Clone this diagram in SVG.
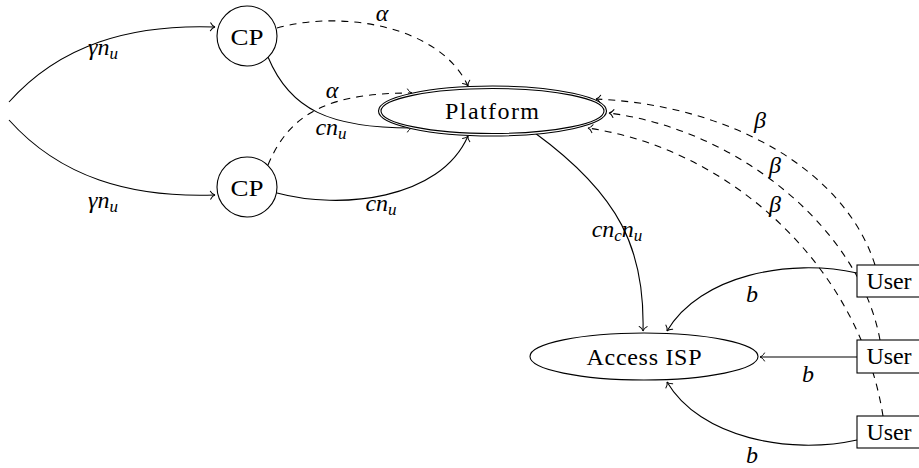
<svg xmlns="http://www.w3.org/2000/svg" width="919" height="468" viewBox="0 0 919 468">
<style>
.n{fill:#fff;stroke:#000;stroke-width:1.1}
.t{font-family:'Liberation Serif','DejaVu Serif',serif;font-size:24px;fill:#000;text-anchor:middle}
.m{font-family:'Liberation Serif','DejaVu Serif',serif;font-size:24px;font-style:italic;fill:#000;text-anchor:middle}
.e{fill:none;stroke:#000;stroke-width:1.1;marker-end:url(#ar)}
.d{stroke-dasharray:7 6}
.s{font-size:17px}
</style>
<defs>
<marker id="ar" markerUnits="userSpaceOnUse" viewBox="-6 -5 8 10" refX="0" refY="0" markerWidth="8" markerHeight="10" orient="auto" overflow="visible">
<path d="M-4.5,-4 C-3.2,-1.6 -1.2,-0.3 0,0 C-1.2,0.3 -3.2,1.6 -4.5,4" fill="none" stroke="#000" stroke-width="1" stroke-linecap="round"/>
</marker>
</defs>
<rect width="919" height="468" fill="#fff"/>
<g id="connectors">
<path class="e" d="M9,102 C60,45 130,24 215,27"/>
<path class="e" d="M9,120 C60,177 130,198 215,195"/>
<path class="e d" d="M277,28 C340,10 440,25 468,86"/>
<path class="e" d="M268,57 C290,110 330,128 412,128"/>
<path class="e d" d="M268,165 C290,112 330,93 412,93"/>
<path class="e" d="M277,193 C340,210 440,200 468,136"/>
<path class="e" d="M535,133 C620,195 645,250 643,331"/>
<path class="e d" d="M875,265 C845,170 730,105 596,99"/>
<path class="e d" d="M880,340 C860,230 740,130 609,113"/>
<path class="e d" d="M883,416 C860,270 735,150 588,128"/>
<path class="e" d="M857,273 C790,258 700,275 667,331"/>
<path class="e" d="M857,357 L760,357"/>
<path class="e" d="M857,440 C790,455 700,438 667,382"/>
<text class="m" x="103" y="55">γn<tspan class="s" dy="4">u</tspan></text>
<text class="m" x="103" y="208">γn<tspan class="s" dy="4">u</tspan></text>
<text class="m" x="382" y="21">α</text>
<text class="m" x="332" y="98">α</text>
<text class="m" x="331" y="135">cn<tspan class="s" dy="4">u</tspan></text>
<text class="m" x="381" y="211">cn<tspan class="s" dy="4">u</tspan></text>
<text class="m" x="617" y="237">cn<tspan class="s" dy="4">c</tspan><tspan dy="-4">n</tspan><tspan class="s" dy="4">u</tspan></text>
<text class="m" x="760" y="128">β</text>
<text class="m" x="775" y="173">β</text>
<text class="m" x="775" y="212">β</text>
<text class="m" x="752" y="302">b</text>
<text class="m" x="808" y="382">b</text>
<text class="m" x="752" y="463">b</text>
</g>
<g id="cp1">
<circle class="n" cx="247" cy="36" r="30"/>
<text class="t" x="247" y="45" textLength="33" lengthAdjust="spacingAndGlyphs">CP</text>
</g>
<g id="cp2">
<circle class="n" cx="247" cy="187" r="30"/>
<text class="t" x="247" y="196" textLength="33" lengthAdjust="spacingAndGlyphs">CP</text>
</g>
<g id="platform">
<ellipse class="n" cx="492.5" cy="111" rx="114" ry="25"/>
<ellipse class="n" cx="492.5" cy="111" rx="111.5" ry="22.5" fill="none"/>
<text class="t" x="492" y="119" textLength="94" lengthAdjust="spacing">Platform</text>
</g>
<g id="access-isp">
<ellipse class="n" cx="644" cy="356.5" rx="114" ry="23.5"/>
<text class="t" x="644" y="365" textLength="115" lengthAdjust="spacing">Access ISP</text>
</g>
<g id="user1">
<rect class="n" x="857" y="265" width="70" height="32"/>
<text class="t" x="889" y="289" textLength="45" lengthAdjust="spacing">User</text>
</g>
<g id="user2">
<rect class="n" x="857" y="340" width="70" height="33"/>
<text class="t" x="889" y="364" textLength="45" lengthAdjust="spacing">User</text>
</g>
<g id="user3">
<rect class="n" x="857" y="416" width="70" height="32"/>
<text class="t" x="889" y="440" textLength="45" lengthAdjust="spacing">User</text>
</g>
</svg>
